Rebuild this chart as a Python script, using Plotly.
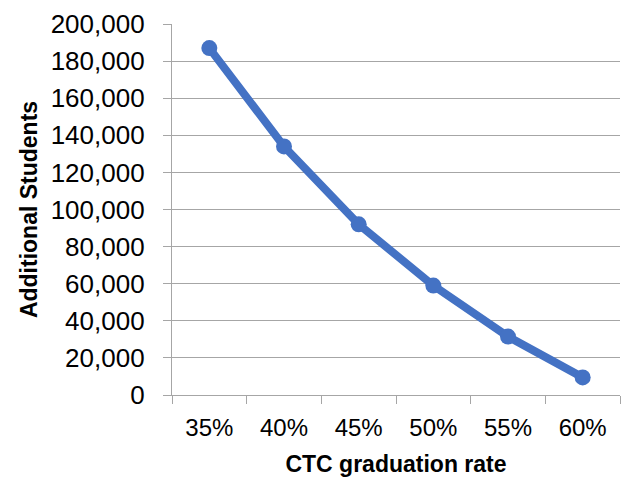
import plotly.graph_objects as go

# CTC graduation rate scenarios and the additional students each would produce
rates = ["35%", "40%", "45%", "50%", "55%", "60%"]
additional_students = [187000, 134000, 92000, 59000, 31500, 9500]

y_ticks = list(range(0, 200001, 20000))
y_tick_text = [f"{v:,}" for v in y_ticks]

blue = "#4472C4"
grid = "#A6A6A6"
base_family = "Liberation Sans, Arial, sans-serif"
title_font = dict(family=base_family, size=23, color="#000000")

fig = go.Figure()
fig.add_trace(go.Scatter(
    x=rates,
    y=additional_students,
    mode="lines+markers",
    line=dict(color=blue, width=8),
    marker=dict(color=blue, size=16),
    showlegend=False,
    hoverinfo="x+y",
))

fig.update_layout(
    width=623,
    height=478,
    margin=dict(l=172, r=3, t=24, b=83),
    paper_bgcolor="white",
    plot_bgcolor="white",
    xaxis=dict(
        type="category",
        range=[-0.5, 5.5],
        tickson="boundaries",
        ticks="outside",
        ticklen=8,
        tickcolor=grid,
        showgrid=False,
        showline=True,
        linecolor=grid,
        linewidth=1.3,
        tickfont=dict(family=base_family, size=24, color="#000000"),
        ticklabelstandoff=11,
        title=dict(text="<b>CTC graduation rate</b>", font=title_font, standoff=15),
        fixedrange=True,
    ),
    yaxis=dict(
        range=[0, 200000],
        tickvals=y_ticks,
        ticktext=y_tick_text,
        ticks="outside",
        ticklen=8,
        tickcolor=grid,
        showgrid=True,
        gridcolor=grid,
        gridwidth=1.3,
        showline=True,
        linecolor=grid,
        linewidth=1.3,
        zeroline=False,
        tickfont=dict(family=base_family, size=26, color="#000000"),
        ticklabelstandoff=13,
        title=dict(text="<b>Additional Students</b>", font=title_font, standoff=6),
        fixedrange=True,
    ),
)

fig.write_html("out.html")
